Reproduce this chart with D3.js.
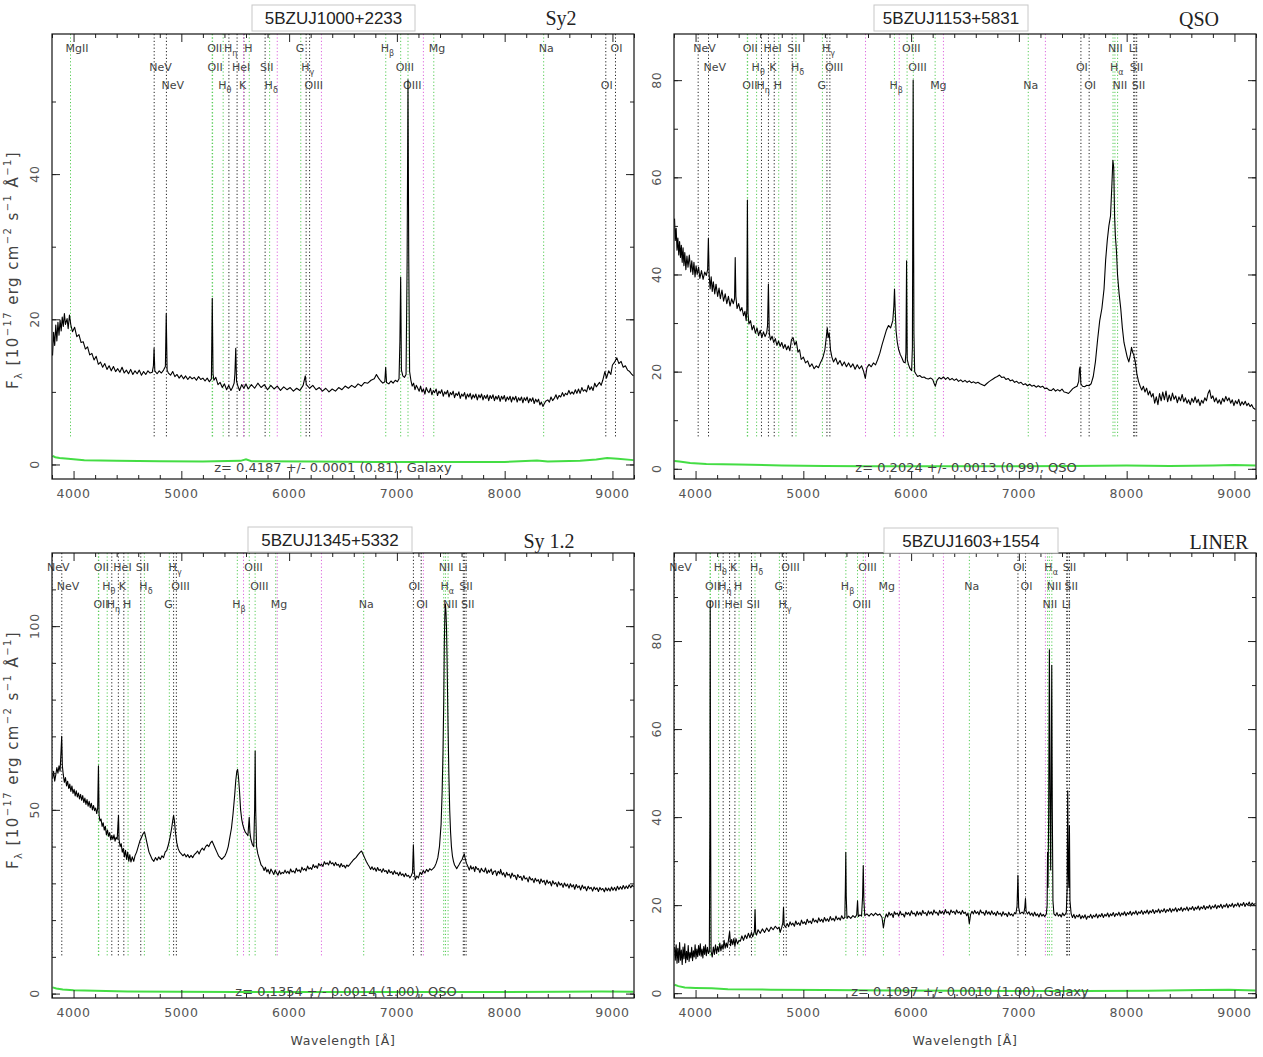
<!DOCTYPE html>
<html>
<head>
<meta charset="utf-8">
<script src="https://d3js.org/d3.v7.min.js"></script>
<style>
  body { margin: 0; background: #fff; }
  svg { display: block; }
</style>
</head>
<body>
<svg id="chart" width="1263" height="1057"></svg>
<script>
// Constants
const WAVE_DOMAIN = [3800, 9200];
const X_MAJOR_TICKS = [4000, 5000, 6000, 7000, 8000, 9000];
const X_MINOR_STEP = 200;

const panelNames = ['5BZUJ1000+2233', '5BZUJ1153+5831', '5BZUJ1345+5332', '5BZUJ1603+1554'];
const panelClass = ['Sy2', 'QSO', 'Sy 1.2', 'LINER'];
const panelZ = [0.4187, 0.2024, 0.1354, 0.1097];
const panelZText = [
  'z= 0.4187 +/- 0.0001 (0.81), Galaxy',
  'z= 0.2024 +/- 0.0013 (0.99), QSO',
  'z= 0.1354 +/- 0.0014 (1.00), QSO',
  'z= 0.1097 +/- 0.0010 (1.00), Galaxy'
];
const yDomains = [[-2, 59.3], [-2.1, 89.5], [-1.2, 119.9], [-1.1, 100]];
const yLabelTicks = [[0, 20, 40], [0, 20, 40, 60, 80], [0, 50, 100], [0, 20, 40, 60, 80]];
const yMinorStep = [10, 10, 10, 10];

// Spectral lines (rest wavelength), label and marker colour
const lineLabels = ['MgII', 'NeV', 'NeV', 'OII', 'OII', 'H_θ', 'H_η', 'HeI', 'K', 'H', 'SII', 'H_δ', 'G', 'H_γ',
  'OIII', 'H_β', 'OIII', 'OIII', 'Mg', 'Na', 'OI', 'OI', 'NII', 'H_α', 'NII', 'Li', 'SII', 'SII'];
const lineRest = [2799.5, 3346.8, 3426.8, 3726.0, 3728.8, 3797.9, 3835.4, 3889.0, 3933.7, 3968.5, 4072.3, 4101.7,
  4305.6, 4340.5, 4363.2, 4861.3, 4958.9, 5006.8, 5175.4, 5894.0, 6300.3, 6363.8, 6548.1, 6562.8, 6583.5,
  6707.8, 6716.4, 6730.8];
const lineColor = ['g', 'k', 'k', 'g', 'g', 'g', 'k', 'k', 'k', 'g', 'k', 'g', 'g', 'k',
  'k', 'g', 'g', 'g', 'g', 'g', 'k', 'k', 'g', 'g', 'g', 'k', 'k', 'k'];
// label row of each line in each panel (0 = no label)
const lineRows = [
  [1, 2, 3, 1, 2, 3, 1, 2, 3, 1, 2, 3, 1, 2, 3, 1, 2, 3, 1, 1, 3, 1, 0, 0, 0, 0, 0, 0],
  [0, 1, 2, 3, 1, 2, 3, 1, 2, 3, 1, 2, 3, 1, 2, 3, 1, 2, 3, 3, 2, 3, 1, 2, 3, 1, 2, 3],
  [0, 1, 2, 3, 1, 2, 3, 1, 2, 3, 1, 2, 3, 1, 2, 3, 1, 2, 3, 3, 2, 3, 1, 2, 3, 1, 2, 3],
  [0, 0, 1, 2, 3, 1, 2, 3, 1, 2, 3, 1, 2, 3, 1, 2, 3, 1, 2, 2, 1, 2, 3, 1, 2, 3, 1, 2]
];
// night sky lines (observed wavelength)
const skyLines = [5577, 5890, 6300, 7246];

// Spectra: [wavelength, flux]
const spec1 = [[3805,15.0],[3815,18.2],[3825,16.4],[3835,19.2],[3845,17.0],[3855,19.6],[3865,17.8],[3875,19.9],
  [3885,18.4],[3895,20.3],[3905,19.0],[3915,20.8],[3925,19.3],[3940,20.1],[3950,18.7],[3962,20.6],[3975,19.2],
  [3990,18.3],[4010,18.9],[4030,17.6],[4050,17.9],[4070,16.8],[4090,16.9],[4110,15.9],[4130,16.2],[4150,15.1],
  [4170,15.3],[4190,14.4],[4210,14.9],[4230,13.8],[4250,14.1],[4270,13.4],[4290,13.9],[4310,13.1],[4330,13.6],
  [4350,12.9],[4370,13.5],[4390,12.8],[4410,13.2],[4430,12.7],[4450,13.4],[4470,12.6],[4490,13.0],[4510,12.5],
  [4530,13.1],[4550,12.4],[4570,12.9],[4590,12.5],[4610,13.0],[4630,12.3],[4650,12.8],[4670,12.4],[4690,12.9],
  [4710,12.6],[4730,12.7],[4741,13.6],[4747,16.0],[4754,12.9],[4775,12.5],[4795,12.9],[4815,12.6],[4835,13.0],
  [4852,13.5],[4860,20.8],[4868,13.0],[4880,12.6],[4900,12.3],[4920,12.8],[4940,12.1],[4960,12.4],[4980,11.9],
  [5000,12.3],[5020,11.8],[5040,12.2],[5060,11.7],[5080,12.1],[5100,11.8],[5120,12.0],[5140,11.6],[5160,12.1],
  [5180,11.7],[5200,11.9],[5220,11.5],[5240,11.9],[5260,11.4],[5279,11.8],[5287,22.9],[5294,12.5],[5302,11.6],
  [5320,12.0],[5340,11.0],[5360,11.3],[5380,10.6],[5400,11.1],[5420,10.3],[5440,10.9],[5460,10.2],[5475,10.6],
  [5490,11.2],[5497,12.5],[5505,16.0],[5512,11.5],[5525,10.8],[5540,10.2],[5560,11.0],[5580,10.5],[5600,11.1],
  [5620,10.4],[5650,11.0],[5680,10.5],[5710,11.2],[5740,10.6],[5770,11.0],[5800,10.3],[5830,10.9],[5860,10.4],
  [5890,10.8],[5920,10.2],[5950,10.7],[5980,10.3],[6010,10.6],[6040,10.1],[6070,10.5],[6100,10.2],[6130,10.9],
  [6150,12.2],[6160,11.0],[6190,10.5],[6220,10.9],[6250,10.3],[6280,10.6],[6310,10.1],[6340,10.5],[6370,10.0],
  [6400,10.4],[6430,10.1],[6460,10.6],[6490,10.3],[6520,10.8],[6550,10.5],[6580,10.9],[6610,10.6],[6640,11.1],
  [6670,10.8],[6700,11.3],[6730,11.2],[6760,11.6],[6790,11.8],[6810,12.4],[6830,11.9],[6850,11.5],[6870,11.2],
  [6888,11.4],[6896,13.4],[6904,11.3],[6925,11.1],[6945,11.5],[6965,11.2],[6985,11.6],[7005,11.4],[7020,11.8],
  [7028,17.0],[7035,25.8],[7042,13.0],[7055,12.2],[7070,12.0],[7085,12.4],[7095,28.0],[7103,53.0],[7110,28.5],
  [7118,12.8],[7130,11.6],[7142,10.8],[7155,11.2],[7168,10.3],[7180,10.9],[7194,10.5],[7207,10.1],[7220,10.8],
  [7233,10.0],[7246,10.4],[7260,9.7],[7272,10.6],[7286,10.1],[7298,9.9],[7312,10.5],[7325,9.6],[7338,10.2],
  [7350,9.9],[7364,10.4],[7377,9.5],[7390,10.1],[7403,9.8],[7416,10.3],[7430,9.4],[7443,10.0],[7456,9.7],
  [7470,10.2],[7483,9.3],[7496,9.9],[7509,9.6],[7522,10.1],[7535,9.2],[7548,9.8],[7562,9.5],[7575,10.0],
  [7588,9.1],[7601,9.7],[7614,9.4],[7628,9.9],[7641,9.0],[7654,9.7],[7667,9.3],[7680,9.8],[7694,9.0],[7707,9.6],
  [7720,9.2],[7733,9.7],[7746,8.9],[7760,9.6],[7773,9.2],[7786,9.7],[7799,8.9],[7812,9.5],[7826,9.1],[7839,9.6],
  [7852,8.8],[7865,9.5],[7878,9.1],[7892,9.6],[7905,8.8],[7918,9.4],[7931,9.0],[7944,9.5],[7958,8.7],[7971,9.4],
  [7984,9.0],[7997,9.5],[8010,8.7],[8024,9.3],[8037,8.9],[8050,9.4],[8063,8.6],[8076,9.3],[8090,8.9],[8103,9.4],
  [8116,8.6],[8129,9.2],[8142,8.8],[8156,9.3],[8169,8.5],[8182,9.2],[8195,8.8],[8208,9.3],[8222,8.5],[8235,9.1],
  [8248,8.7],[8261,9.2],[8274,8.4],[8288,9.0],[8301,8.6],[8314,9.0],[8327,8.2],[8340,8.6],[8355,8.0],[8365,8.3],
  [8380,8.7],[8400,8.9],[8415,8.6],[8430,9.3],[8445,8.8],[8460,9.1],[8476,9.6],[8490,9.0],[8505,9.5],[8520,9.3],
  [8536,9.9],[8550,9.4],[8565,9.8],[8580,9.6],[8596,10.2],[8610,9.7],[8625,10.0],[8640,9.7],[8656,10.3],
  [8670,9.8],[8685,10.4],[8700,9.8],[8716,10.6],[8730,10.1],[8745,10.3],[8760,10.0],[8776,10.9],[8790,10.3],
  [8805,10.7],[8820,10.2],[8836,11.2],[8850,10.7],[8865,11.0],[8880,11.3],[8895,10.9],[8910,11.6],[8930,12.8],
  [8945,11.9],[8965,12.9],[8985,12.4],[9000,13.7],[9020,14.1],[9040,14.7],[9060,13.9],[9080,14.2],[9100,13.4],
  [9120,13.6],[9140,13.0],[9160,12.8],[9180,12.4],[9195,12.2]];

const spec2 = [[3805,51.5],[3812,47.0],[3820,49.5],[3828,45.0],[3836,47.5],[3844,44.0],[3852,46.8],[3860,43.5],
  [3868,46.0],[3876,42.5],[3884,45.5],[3892,41.8],[3900,44.5],[3910,41.0],[3920,43.8],[3930,41.5],[3942,44.0],
  [3955,40.5],[3965,42.8],[3975,40.0],[3985,42.5],[3995,39.5],[4005,41.8],[4015,40.0],[4028,41.5],[4040,39.2],
  [4055,40.8],[4070,39.0],[4085,40.5],[4100,39.8],[4112,41.0],[4119,47.5],[4126,40.0],[4135,37.0],[4145,39.5],
  [4155,36.5],[4165,38.5],[4178,36.0],[4190,38.0],[4205,35.5],[4218,37.2],[4230,35.0],[4245,36.8],[4260,34.5],
  [4275,36.0],[4290,34.0],[4305,35.5],[4320,33.5],[4335,35.0],[4350,34.0],[4362,35.0],[4368,43.5],[4374,35.5],
  [4385,33.0],[4400,34.0],[4415,32.5],[4430,33.2],[4445,31.5],[4458,32.4],[4470,30.5],[4476,33.0],[4481,55.3],
  [4487,32.0],[4495,29.8],[4510,30.5],[4525,28.6],[4540,29.5],[4555,27.9],[4570,29.0],[4585,27.4],[4600,28.5],
  [4615,27.0],[4630,28.2],[4645,27.2],[4660,28.0],[4668,29.5],[4676,38.0],[4684,28.0],[4695,26.5],[4710,27.3],
  [4725,26.0],[4740,26.8],[4755,25.4],[4770,26.3],[4785,25.2],[4800,26.0],[4815,24.8],[4830,25.6],[4845,24.5],
  [4860,25.3],[4875,24.3],[4890,26.6],[4905,27.0],[4920,25.5],[4935,26.2],[4950,24.0],[4965,24.5],[4980,22.5],
  [5000,23.0],[5020,21.8],[5040,22.2],[5060,21.0],[5080,21.6],[5100,20.6],[5120,21.2],[5140,20.8],[5160,21.9],
  [5180,22.8],[5200,24.5],[5215,27.5],[5222,29.0],[5230,27.0],[5240,28.0],[5252,24.5],[5265,23.0],[5280,22.0],
  [5300,22.8],[5320,21.5],[5340,22.3],[5360,21.2],[5380,22.0],[5400,21.0],[5420,21.8],[5440,20.9],[5460,21.6],
  [5480,20.5],[5500,21.4],[5520,20.6],[5540,21.2],[5560,20.0],[5575,18.6],[5590,20.8],[5610,21.5],[5630,21.0],
  [5650,21.8],[5670,21.4],[5690,22.5],[5710,23.8],[5730,25.5],[5750,27.0],[5770,28.5],[5790,29.5],[5810,29.0],
  [5830,30.5],[5840,33.5],[5846,37.0],[5852,33.0],[5860,28.5],[5872,26.0],[5885,24.5],[5900,23.5],[5915,22.8],
  [5930,22.0],[5945,21.8],[5952,24.0],[5958,42.8],[5964,22.5],[5975,21.5],[5990,20.6],[6005,20.2],[6012,25.0],
  [6019,80.0],[6026,28.0],[6033,20.0],[6045,19.5],[6060,19.0],[6080,19.2],[6100,18.8],[6120,18.9],[6140,18.6],
  [6160,18.5],[6180,18.7],[6200,18.4],[6215,17.5],[6225,17.0],[6240,18.2],[6260,18.8],[6280,18.5],[6300,18.9],
  [6320,18.4],[6340,18.8],[6360,18.3],[6380,18.6],[6400,18.2],[6420,18.5],[6440,18.0],[6460,18.3],[6480,17.9],
  [6500,18.2],[6520,17.8],[6540,18.1],[6560,17.7],[6580,17.9],[6600,17.6],[6620,17.8],[6640,17.5],[6660,17.3],
  [6680,17.1],[6700,17.5],[6720,17.9],[6740,18.2],[6760,18.5],[6780,18.8],[6800,19.0],[6820,19.3],[6840,18.8],
  [6860,18.9],[6880,18.4],[6900,18.6],[6920,18.1],[6940,18.3],[6960,17.8],[6980,18.0],[7000,17.6],[7020,17.8],
  [7040,17.3],[7060,17.5],[7080,17.1],[7100,17.4],[7120,17.0],[7140,17.2],[7160,16.8],[7180,17.1],[7200,16.8],
  [7220,17.0],[7240,16.5],[7260,16.6],[7280,16.2],[7300,16.1],[7320,16.5],[7340,16.0],[7360,16.3],[7380,16.0],
  [7400,16.4],[7420,15.8],[7440,15.7],[7460,15.5],[7480,16.0],[7500,16.5],[7520,16.8],[7540,17.0],[7555,18.0],
  [7562,20.5],[7568,21.0],[7575,17.5],[7590,17.0],[7610,16.9],[7630,17.2],[7650,17.1],[7670,17.5],[7690,19.0],
  [7710,22.0],[7730,26.5],[7750,30.5],[7770,33.0],[7790,37.0],[7805,43.0],[7820,47.0],[7835,50.0],[7850,52.0],
  [7862,58.0],[7872,63.5],[7880,62.0],[7888,52.0],[7895,48.0],[7905,45.0],[7915,40.0],[7930,36.0],[7945,33.0],
  [7960,29.0],[7975,26.0],[7990,24.5],[8005,23.0],[8020,22.0],[8035,23.5],[8045,25.0],[8055,24.0],[8065,23.5],
  [8080,22.0],[8095,19.5],[8110,18.0],[8125,17.0],[8140,16.2],[8155,17.0],[8170,15.8],[8185,16.6],[8200,15.2],
  [8215,16.0],[8230,14.8],[8245,15.5],[8260,13.5],[8275,14.8],[8290,13.2],[8305,15.5],[8320,14.0],[8335,15.8],
  [8350,14.2],[8365,16.0],[8380,13.8],[8395,15.2],[8410,14.0],[8425,15.6],[8440,14.3],[8455,15.0],[8470,13.6],
  [8485,14.8],[8500,14.0],[8515,15.3],[8530,13.8],[8545,14.6],[8560,13.5],[8575,14.2],[8590,13.2],[8605,14.5],
  [8620,13.7],[8635,14.8],[8650,13.6],[8665,14.3],[8680,13.0],[8695,14.1],[8710,13.5],[8725,14.6],[8740,14.0],
  [8755,15.5],[8770,16.2],[8785,14.5],[8800,15.0],[8815,13.8],[8830,14.6],[8845,13.5],[8860,14.2],[8875,13.3],
  [8890,14.5],[8905,13.8],[8920,14.9],[8935,14.0],[8950,14.6],[8965,13.5],[8980,14.2],[8995,13.0],[9010,14.0],
  [9025,13.4],[9040,14.3],[9055,13.0],[9070,13.8],[9085,13.2],[9100,13.9],[9115,13.0],[9130,13.5],[9145,12.8],
  [9160,13.2],[9175,12.5],[9195,12.2]];

const spec3 = [[3805,58.5],[3815,60.5],[3825,57.8],[3835,59.5],[3845,61.5],[3855,60.0],[3865,62.0],[3875,60.5],
  [3884,66.0],[3890,70.0],[3896,62.0],[3905,59.5],[3915,57.5],[3925,58.8],[3935,56.5],[3945,57.8],[3955,55.8],
  [3965,57.0],[3975,55.0],[3985,56.5],[3995,54.5],[4005,55.6],[4015,53.8],[4025,55.2],[4035,53.5],[4045,54.6],
  [4055,53.0],[4065,54.2],[4075,52.6],[4085,53.9],[4095,52.0],[4105,53.2],[4115,51.5],[4125,52.8],[4135,51.0],
  [4145,52.3],[4155,50.6],[4165,51.8],[4175,50.0],[4185,51.2],[4195,49.8],[4205,50.5],[4215,49.0],[4224,50.5],
  [4231,62.0],[4237,48.5],[4245,47.0],[4255,47.5],[4265,45.5],[4275,46.5],[4285,44.5],[4295,45.5],[4305,43.2],
  [4315,44.5],[4325,42.8],[4335,43.8],[4345,41.8],[4355,43.0],[4365,42.0],[4375,43.2],[4385,41.5],[4395,42.5],
  [4405,42.0],[4412,46.0],[4417,48.5],[4422,42.0],[4432,40.0],[4442,40.8],[4452,38.5],[4462,39.5],[4472,37.2],
  [4482,39.0],[4492,36.5],[4502,38.5],[4512,36.0],[4522,37.8],[4532,35.8],[4545,37.2],[4558,36.0],[4570,37.5],
  [4585,38.5],[4600,40.0],[4615,41.5],[4630,42.5],[4645,43.5],[4658,44.0],[4670,42.5],[4685,40.5],[4700,38.5],
  [4715,37.5],[4730,36.5],[4745,36.0],[4760,37.0],[4775,36.3],[4790,37.2],[4805,36.5],[4820,37.5],[4835,37.0],
  [4850,38.5],[4865,39.0],[4880,40.5],[4895,42.5],[4910,45.0],[4920,47.0],[4928,48.5],[4936,47.0],[4945,44.0],
  [4958,41.0],[4970,39.5],[4985,38.5],[5000,38.0],[5015,37.5],[5030,38.0],[5045,37.2],[5060,37.8],[5075,37.0],
  [5090,37.6],[5105,37.0],[5120,37.8],[5135,38.2],[5150,38.8],[5165,38.0],[5180,39.0],[5195,39.6],[5210,39.0],
  [5225,40.0],[5240,40.5],[5255,40.0],[5270,41.0],[5285,41.5],[5300,40.5],[5315,39.5],[5330,38.5],[5345,37.5],
  [5360,37.0],[5375,36.5],[5390,37.0],[5405,37.5],[5420,38.5],[5435,40.0],[5450,42.5],[5465,45.0],[5480,49.0],
  [5495,54.0],[5505,58.0],[5515,60.5],[5522,61.0],[5530,59.0],[5540,55.0],[5550,50.0],[5560,47.5],[5570,46.0],
  [5580,45.0],[5592,44.0],[5605,43.5],[5618,43.0],[5625,46.0],[5630,48.0],[5636,44.0],[5645,42.0],[5660,40.5],
  [5672,40.0],[5680,50.0],[5685,66.0],[5690,50.0],[5698,40.0],[5710,38.0],[5725,36.5],[5740,35.0],[5755,34.5],
  [5768,33.5],[5780,34.4],[5793,33.1],[5805,33.8],[5819,32.6],[5831,33.9],[5844,33.2],[5858,32.4],[5870,33.6],
  [5883,32.9],[5896,32.2],[5910,33.4],[5922,32.5],[5936,33.0],[5948,32.7],[5962,33.6],[5975,32.8],[5988,33.3],
  [6001,32.6],[6014,33.9],[6027,33.1],[6040,33.4],[6054,32.8],[6066,34.1],[6080,33.3],[6093,33.7],[6106,33.0],
  [6119,34.4],[6132,33.6],[6145,34.0],[6158,33.4],[6171,34.7],[6184,33.9],[6197,34.3],[6210,33.8],[6223,35.1],
  [6236,34.3],[6249,34.8],[6262,34.1],[6275,35.4],[6288,34.8],[6301,35.2],[6314,34.6],[6327,35.9],[6340,35.2],
  [6353,35.6],[6366,35.0],[6379,36.1],[6392,35.3],[6405,35.6],[6418,34.8],[6431,35.7],[6444,34.9],[6457,35.2],
  [6470,34.4],[6483,35.4],[6496,34.6],[6509,34.9],[6522,34.2],[6535,35.0],[6548,34.6],[6562,35.1],[6580,35.8],
  [6600,36.5],[6620,37.0],[6640,37.8],[6660,38.5],[6672,38.8],[6685,38.0],[6700,37.0],[6715,36.0],[6730,35.2],
  [6743,34.6],[6756,33.8],[6769,34.5],[6782,33.7],[6795,34.2],[6808,33.3],[6821,34.3],[6834,33.5],[6847,33.8],
  [6860,33.0],[6873,34.0],[6886,33.2],[6899,33.5],[6912,32.7],[6925,33.7],[6938,32.9],[6951,33.2],[6964,32.4],
  [6977,33.4],[6990,32.6],[7003,32.9],[7016,32.1],[7029,33.1],[7042,32.2],[7055,32.6],[7068,31.8],[7081,32.7],
  [7094,31.9],[7107,32.2],[7120,31.5],[7132,32.0],[7145,33.0],[7153,40.5],[7160,33.5],[7170,31.0],[7185,32.0],
  [7200,31.5],[7215,33.0],[7230,32.4],[7245,33.5],[7260,32.8],[7275,33.8],[7290,33.2],[7305,34.0],[7320,33.6],
  [7335,34.0],[7350,34.5],[7365,35.5],[7380,37.0],[7395,40.0],[7410,46.0],[7420,55.0],[7428,66.0],[7435,80.0],
  [7440,95.0],[7445,103.0],[7450,106.0],[7455,104.0],[7460,100.0],[7465,92.0],[7470,82.0],[7475,72.0],[7482,60.0],
  [7490,50.0],[7498,44.0],[7506,40.0],[7515,37.5],[7525,36.0],[7535,35.0],[7545,34.5],[7555,34.0],[7565,34.5],
  [7575,35.0],[7590,35.8],[7605,36.5],[7618,37.5],[7625,38.0],[7632,37.0],[7645,35.5],[7660,34.5],[7672,33.6],
  [7685,34.8],[7694,33.9],[7710,34.4],[7722,33.2],[7731,34.6],[7748,33.8],[7757,34.0],[7770,32.9],[7784,34.1],
  [7795,33.5],[7810,33.1],[7822,34.2],[7836,32.7],[7850,33.6],[7858,33.0],[7875,33.9],[7888,32.4],[7900,33.2],
  [7915,33.4],[7926,32.1],[7940,33.3],[7955,32.6],[7962,33.8],[7978,32.3],[7990,32.9],[8005,31.7],[8018,33.0],
  [8030,32.2],[8044,32.5],[8056,31.4],[8068,32.8],[8082,31.9],[8095,32.2],[8110,31.0],[8121,32.4],[8137,31.6],
  [8150,31.9],[8162,30.8],[8178,32.1],[8190,31.2],[8205,31.5],[8218,30.4],[8230,31.8],[8246,30.9],[8258,31.3],
  [8272,30.2],[8284,31.4],[8298,30.6],[8312,31.0],[8326,29.9],[8337,31.2],[8352,30.3],[8366,30.8],[8378,29.6],
  [8392,30.9],[8405,30.0],[8420,30.5],[8434,29.3],[8446,30.7],[8460,29.8],[8474,30.2],[8488,29.1],[8500,30.4],
  [8515,29.5],[8528,30.0],[8542,28.9],[8555,30.1],[8570,29.2],[8583,29.8],[8597,28.7],[8610,29.9],[8624,29.0],
  [8638,29.6],[8650,28.4],[8664,29.7],[8678,28.8],[8692,29.3],[8705,28.2],[8720,29.5],[8734,28.6],[8746,29.1],
  [8760,28.0],[8775,29.2],[8788,28.5],[8802,28.9],[8816,27.9],[8830,29.0],[8843,28.3],[8856,28.8],[8870,27.8],
  [8884,28.9],[8897,28.2],[8910,28.6],[8925,27.7],[8938,28.8],[8952,28.0],[8965,28.7],[8978,27.9],[8992,29.0],
  [9005,28.1],[9020,28.9],[9033,28.0],[9046,29.2],[9060,28.3],[9074,29.1],[9088,28.4],[9100,29.4],[9115,28.5],
  [9128,29.3],[9142,28.6],[9155,29.6],[9170,28.8],[9183,29.5],[9195,29.0]];

const spec4 = [[3805,10.5],[3812,7.5],[3820,11.0],[3828,6.8],[3836,10.2],[3844,7.0],[3852,11.5],[3860,7.5],
  [3868,9.8],[3876,6.5],[3884,10.5],[3892,7.8],[3900,11.2],[3908,6.9],[3916,9.5],[3924,7.6],[3932,10.8],
  [3940,7.2],[3948,9.2],[3956,8.0],[3964,10.4],[3972,7.4],[3980,9.6],[3988,8.2],[3996,11.0],[4004,7.8],
  [4012,10.0],[4020,8.3],[4028,10.8],[4036,8.6],[4044,11.2],[4052,8.4],[4060,10.0],[4068,8.0],[4076,10.6],
  [4084,8.8],[4092,11.0],[4100,8.5],[4110,10.4],[4120,9.0],[4128,9.5],[4133,40.0],[4136,89.0],[4139,45.0],
  [4144,9.5],[4155,8.2],[4165,10.5],[4175,8.8],[4185,11.0],[4195,9.0],[4205,10.6],[4215,9.4],[4225,11.4],
  [4235,9.6],[4245,11.0],[4255,10.0],[4265,12.0],[4275,10.2],[4285,11.4],[4295,10.4],[4305,12.0],[4316,14.0],
  [4325,10.8],[4335,12.2],[4345,11.0],[4355,12.4],[4365,10.6],[4375,12.4],[4390,11.2],[4404,12.0],[4415,11.8],
  [4430,13.0],[4445,12.0],[4460,13.2],[4475,12.4],[4490,13.6],[4505,12.6],[4519,13.8],[4530,12.8],[4546,14.0],
  [4552,19.0],[4558,13.6],[4565,13.2],[4580,14.4],[4600,13.6],[4620,14.6],[4640,13.8],[4660,14.8],[4680,14.0],
  [4700,15.0],[4720,14.4],[4740,15.2],[4760,14.6],[4775,15.0],[4785,13.8],[4800,15.0],[4810,16.0],[4816,19.5],
  [4822,15.5],[4835,15.0],[4850,15.8],[4864,15.1],[4877,16.2],[4890,15.5],[4903,15.9],[4917,15.2],[4930,16.4],
  [4943,15.6],[4956,16.0],[4970,15.4],[4983,16.6],[4996,15.8],[5010,16.2],[5023,15.6],[5036,16.8],[5050,16.0],
  [5063,16.4],[5076,15.8],[5090,17.0],[5103,16.2],[5116,16.6],[5130,16.0],[5143,17.1],[5156,16.3],[5170,16.8],
  [5183,16.1],[5196,17.2],[5210,16.4],[5223,16.9],[5236,16.3],[5250,17.4],[5263,16.6],[5276,17.0],[5290,16.4],
  [5303,17.5],[5316,16.7],[5330,17.1],[5343,16.6],[5356,17.6],[5370,16.9],[5385,17.2],[5390,24.0],[5394,32.0],
  [5398,22.0],[5405,17.0],[5420,17.5],[5440,17.0],[5460,17.6],[5480,17.2],[5495,17.8],[5503,21.0],[5510,17.4],
  [5525,17.8],[5540,17.5],[5550,22.0],[5556,29.0],[5562,21.0],[5570,17.6],[5590,18.0],[5610,17.5],[5630,18.1],
  [5650,17.6],[5670,18.2],[5690,17.7],[5710,18.0],[5730,17.2],[5743,14.8],[5755,16.8],[5770,18.0],[5782,17.3],
  [5795,18.4],[5806,17.7],[5820,18.1],[5834,17.2],[5845,18.5],[5858,17.9],[5872,18.2],[5885,17.5],[5898,18.6],
  [5911,17.8],[5925,18.0],[5938,17.3],[5950,18.4],[5964,17.9],[5977,18.3],[5990,17.6],[6003,18.7],[6016,18.0],
  [6030,18.2],[6043,17.5],[6055,18.6],[6068,17.8],[6082,18.4],[6095,17.7],[6108,18.8],[6120,18.1],[6134,18.3],
  [6147,17.6],[6160,18.7],[6172,18.0],[6186,18.5],[6200,17.8],[6212,18.9],[6225,18.2],[6238,18.4],[6252,17.7],
  [6265,18.8],[6278,18.1],[6290,18.6],[6304,17.9],[6318,19.0],[6330,18.2],[6344,18.5],[6357,17.8],[6370,18.9],
  [6383,18.3],[6396,18.6],[6410,17.9],[6422,18.9],[6436,18.2],[6450,18.5],[6463,17.9],[6476,18.8],[6490,18.1],
  [6503,18.4],[6516,17.6],[6528,18.2],[6540,15.8],[6552,17.9],[6565,18.6],[6578,18.0],[6590,18.8],[6604,18.1],
  [6618,18.5],[6630,17.8],[6643,18.9],[6656,18.2],[6670,18.4],[6683,17.7],[6696,18.8],[6710,18.0],[6722,18.5],
  [6735,17.8],[6748,18.7],[6762,17.9],[6775,18.3],[6788,17.6],[6800,18.6],[6814,17.9],[6828,18.2],[6840,17.5],
  [6853,18.5],[6866,17.8],[6880,18.1],[6893,17.4],[6906,18.4],[6920,17.7],[6933,18.0],[6946,17.5],[6960,18.3],
  [6972,18.0],[6983,19.8],[6991,26.8],[6998,19.5],[7010,18.0],[7030,18.4],[7045,18.0],[7055,19.5],[7061,21.5],
  [7067,18.6],[7080,18.0],[7093,18.5],[7106,17.7],[7120,18.2],[7133,17.5],[7146,18.4],[7160,17.6],[7173,18.0],
  [7186,17.3],[7200,18.2],[7213,17.5],[7226,17.9],[7240,17.4],[7255,18.0],[7262,20.0],[7266,32.0],[7270,24.0],
  [7276,40.0],[7283,78.0],[7289,45.0],[7295,28.0],[7300,48.0],[7305,74.5],[7310,42.0],[7316,21.0],[7325,18.0],
  [7340,17.6],[7353,18.3],[7366,17.5],[7380,17.9],[7393,17.3],[7406,18.2],[7420,17.6],[7433,18.0],[7440,18.4],
  [7448,24.0],[7453,46.0],[7458,28.0],[7464,24.0],[7469,38.0],[7474,21.0],[7485,18.0],[7497,17.2],[7510,17.9],
  [7522,17.0],[7536,17.7],[7549,17.3],[7562,17.9],[7575,16.9],[7588,17.6],[7600,17.1],[7614,17.8],[7627,16.8],
  [7640,17.5],[7653,17.2],[7666,17.9],[7680,17.0],[7692,17.7],[7705,17.3],[7718,18.0],[7731,17.1],[7745,17.8],
  [7758,17.4],[7770,18.1],[7784,17.2],[7797,17.9],[7810,17.5],[7823,18.2],[7836,17.3],[7850,18.0],[7862,17.6],
  [7876,18.3],[7889,17.4],[7902,18.1],[7915,17.7],[7928,18.4],[7941,17.5],[7955,18.2],[7968,17.8],[7980,18.5],
  [7994,17.6],[8007,18.3],[8020,17.9],[8033,18.6],[8046,17.7],[8060,18.4],[8073,18.0],[8086,18.7],[8099,17.8],
  [8112,18.5],[8125,18.1],[8138,18.8],[8152,17.9],[8165,18.6],[8178,18.2],[8190,18.9],[8204,18.0],[8217,18.7],
  [8230,18.3],[8243,19.0],[8257,18.1],[8270,18.8],[8283,18.4],[8296,19.1],[8309,18.2],[8322,18.9],[8335,18.5],
  [8348,19.2],[8362,18.3],[8375,19.0],[8388,18.6],[8401,19.3],[8414,18.4],[8427,19.1],[8440,18.7],[8454,19.4],
  [8467,18.5],[8480,19.2],[8493,18.8],[8506,19.5],[8519,18.6],[8532,19.3],[8546,18.9],[8559,19.6],[8572,18.7],
  [8585,19.4],[8598,19.0],[8611,19.7],[8625,18.8],[8638,19.5],[8651,19.1],[8664,19.8],[8677,18.9],[8690,19.6],
  [8704,19.2],[8717,19.9],[8730,19.0],[8743,19.7],[8756,19.3],[8769,20.0],[8782,19.1],[8796,19.8],[8809,19.4],
  [8822,20.1],[8835,19.2],[8848,19.9],[8861,19.5],[8874,20.2],[8888,19.3],[8901,20.0],[8914,19.6],[8927,20.3],
  [8940,19.4],[8953,20.1],[8967,19.7],[8980,20.4],[8993,19.5],[9006,20.2],[9019,19.8],[9032,20.5],[9045,19.6],
  [9058,20.3],[9072,19.9],[9085,20.6],[9098,19.7],[9111,20.4],[9124,20.0],[9137,20.7],[9150,19.8],[9164,20.5],
  [9177,20.1],[9195,20.4]];

// Error / sky spectra plotted in green near zero
const noise1 = [[3805,1.2],[3830,1.0],[3870,0.9],[3950,0.8],[4100,0.6],[4400,0.5],[4800,0.45],[5200,0.4],
  [5550,0.5],[5600,0.7],[5650,0.45],[6200,0.4],[6800,0.35],[7400,0.35],[8000,0.35],[8300,0.55],[8400,0.4],
  [8700,0.5],[8850,0.7],[8950,0.9],[9050,0.8],[9195,0.6]];
const noise2 = [[3805,1.6],[3850,1.5],[3950,1.2],[4100,1.0],[4400,0.9],[4800,0.7],[5200,0.6],[5600,0.5],
  [6000,0.55],[6500,0.5],[7000,0.55],[7500,0.6],[8000,0.7],[8400,0.6],[8800,0.7],[9000,0.8],[9195,0.7]];
const noise3 = [[3805,1.7],[3840,1.4],[3900,1.1],[4000,0.9],[4200,0.8],[4500,0.6],[5000,0.5],[5500,0.45],
  [6000,0.45],[6500,0.4],[7000,0.4],[7500,0.4],[8000,0.4],[8500,0.5],[8900,0.6],[9195,0.5]];
const noise4 = [[3805,1.9],[3840,1.6],[3900,1.3],[4000,1.2],[4150,1.1],[4300,0.9],[4700,0.8],[5200,0.7],
  [5800,0.6],[6400,0.55],[7000,0.5],[7600,0.5],[8200,0.55],[8700,0.7],[8950,0.8],[9195,0.6]];

const spectra = [spec1, spec2, spec3, spec4];
const noises = [noise1, noise2, noise3, noise4];

// Layout (pixels)
const frames = [
  { x: 52, y: 34, w: 582, h: 445 },
  { x: 674, y: 34, w: 582, h: 445 },
  { x: 52, y: 553, w: 582, h: 445 },
  { x: 674, y: 553, w: 582, h: 445 }
];
const titleBoxes = [
  { x: 252, y: 5, w: 163, h: 26 },
  { x: 874, y: 5, w: 154, h: 26 },
  { x: 248, y: 527, w: 164, h: 25 },
  { x: 884, y: 528, w: 174, h: 25 }
];
const classPos = [{ x: 561, y: 25 }, { x: 1199, y: 26 }, { x: 549, y: 548 }, { x: 1219, y: 549 }];
const zTextPos = [{ x: 333, y: 472 }, { x: 966, y: 472 }, { x: 346, y: 996 }, { x: 970, y: 996 }];
const ROW_OFFSETS = [18, 37, 55];
const COLORS = { g: '#55cc55', k: '#222', m: '#dd66dd' };
const FONT = "'DejaVu Sans', 'Liberation Sans', sans-serif";

const svg = d3.select('#chart');
svg.append('rect').attr('width', 1263).attr('height', 1057).attr('fill', '#fff');

//==========================================
// Helpers
//==========================================

// Write a label like "H_β" as H with a subscript
function addLineLabel(g, x, y, label) {
  const parts = label.split('_');
  const t = g.append('text')
    .attr('x', x).attr('y', y)
    .attr('font-family', FONT).attr('font-size', 11)
    .attr('fill', '#444')
    .text(parts[0]);
  if (parts[1]) {
    t.append('tspan')
      .attr('font-size', 8)
      .attr('dy', 4)
      .text(parts[1]);
  }
}

function drawPanel(i) {
  const f = frames[i];
  const x = d3.scaleLinear().domain(WAVE_DOMAIN).range([f.x, f.x + f.w]);
  const y = d3.scaleLinear().domain(yDomains[i]).range([f.y + f.h, f.y]);
  const g = svg.append('g');

  const clipId = `clip-${i}`;
  svg.append('clipPath').attr('id', clipId)
    .append('rect').attr('x', f.x).attr('y', f.y).attr('width', f.w).attr('height', f.h);

  // Line markers
  const markerBottom = f.y + f.h - 42;
  const z = panelZ[i];
  const markers = g.append('g').attr('clip-path', `url(#${clipId})`);
  lineRest.forEach((rest, k) => {
    const obs = rest * (1 + z);
    if (obs < WAVE_DOMAIN[0] - 10 || obs > WAVE_DOMAIN[1]) return;
    markers.append('line')
      .attr('x1', x(obs)).attr('x2', x(obs))
      .attr('y1', f.y).attr('y2', markerBottom)
      .attr('stroke', COLORS[lineColor[k]])
      .attr('stroke-width', 1)
      .attr('stroke-dasharray', '1.2,2.2');
  });
  skyLines.forEach(w => {
    markers.append('line')
      .attr('x1', x(w)).attr('x2', x(w))
      .attr('y1', f.y).attr('y2', markerBottom)
      .attr('stroke', COLORS.m)
      .attr('stroke-width', 1)
      .attr('stroke-dasharray', '1.2,2.2');
  });

  // Line labels
  lineRest.forEach((rest, k) => {
    const row = lineRows[i][k];
    if (!row) return;
    const obs = rest * (1 + z);
    addLineLabel(g, x(obs) - 5, f.y + ROW_OFFSETS[row - 1], lineLabels[k]);
  });

  // Noise spectrum (green)
  const line = d3.line().x(d => x(d[0])).y(d => y(d[1]));
  g.append('path')
    .datum(noises[i])
    .attr('clip-path', `url(#${clipId})`)
    .attr('d', line)
    .attr('fill', 'none')
    .attr('stroke', '#44dd44')
    .attr('stroke-width', 2);

  // Object spectrum
  g.append('path')
    .datum(spectra[i])
    .attr('clip-path', `url(#${clipId})`)
    .attr('d', line)
    .attr('fill', 'none')
    .attr('stroke', '#000')
    .attr('stroke-width', 1.1)
    .attr('stroke-linejoin', 'round');

  // Axes: ticks point inward on all four sides
  const minorX = d3.range(WAVE_DOMAIN[0], WAVE_DOMAIN[1] + 1, X_MINOR_STEP).filter(v => v % 1000 !== 0);
  const yMinor = d3.range(0, yDomains[i][1], yMinorStep[i]);
  const axes = [
    [d3.axisBottom(x).tickValues(X_MAJOR_TICKS).tickSize(-8), `translate(0,${f.y + f.h})`],
    [d3.axisBottom(x).tickValues(minorX).tickSize(-4), `translate(0,${f.y + f.h})`],
    [d3.axisTop(x).tickValues(X_MAJOR_TICKS).tickSize(-8), `translate(0,${f.y})`],
    [d3.axisTop(x).tickValues(minorX).tickSize(-4), `translate(0,${f.y})`],
    [d3.axisLeft(y).tickValues(yLabelTicks[i]).tickSize(-8), `translate(${f.x},0)`],
    [d3.axisLeft(y).tickValues(yMinor).tickSize(-4), `translate(${f.x},0)`],
    [d3.axisRight(y).tickValues(yLabelTicks[i]).tickSize(-8), `translate(${f.x + f.w},0)`],
    [d3.axisRight(y).tickValues(yMinor).tickSize(-4), `translate(${f.x + f.w},0)`]
  ];
  axes.forEach(([ax, tr]) => {
    const a = g.append('g').attr('transform', tr).call(ax.tickFormat(''));
    a.select('.domain').remove();
    a.selectAll('line').attr('stroke', '#222');
  });

  // Frame
  g.append('rect')
    .attr('x', f.x).attr('y', f.y).attr('width', f.w).attr('height', f.h)
    .attr('fill', 'none').attr('stroke', '#111').attr('stroke-width', 1.2);

  // Tick labels
  X_MAJOR_TICKS.forEach(v => {
    g.append('text')
      .attr('x', x(v)).attr('y', f.y + f.h + 19)
      .attr('text-anchor', 'middle')
      .attr('font-family', FONT).attr('font-size', 12.5)
      .attr('letter-spacing', 0.6)
      .attr('fill', '#555')
      .text(v);
  });
  yLabelTicks[i].forEach(v => {
    g.append('text')
      .attr('transform', `translate(${f.x - 13},${y(v)}) rotate(-90)`)
      .attr('text-anchor', 'middle')
      .attr('font-family', FONT).attr('font-size', 12.5)
      .attr('letter-spacing', 0.6)
      .attr('fill', '#555')
      .text(v);
  });

  // Redshift text
  g.append('text')
    .attr('x', zTextPos[i].x).attr('y', zTextPos[i].y)
    .attr('text-anchor', 'middle')
    .attr('font-family', FONT).attr('font-size', 13)
    .attr('fill', '#444')
    .text(panelZText[i]);

  // Title box and class
  const b = titleBoxes[i];
  g.append('rect')
    .attr('x', b.x).attr('y', b.y).attr('width', b.w).attr('height', b.h)
    .attr('fill', '#fff').attr('stroke', '#c8c8c8').attr('stroke-width', 1);
  g.append('text')
    .attr('x', b.x + b.w / 2).attr('y', b.y + b.h / 2 + 6)
    .attr('text-anchor', 'middle')
    .attr('font-family', "Arial, 'Liberation Sans', sans-serif").attr('font-size', 17)
    .attr('fill', '#222')
    .text(panelNames[i]);
  g.append('text')
    .attr('x', classPos[i].x).attr('y', classPos[i].y)
    .attr('text-anchor', 'middle')
    .attr('font-family', "'Liberation Serif', 'Times New Roman', serif").attr('font-size', 20)
    .attr('fill', '#222')
    .text(panelClass[i]);

  // Axis titles: y on the left column, x on the bottom row
  if (i % 2 === 0) {
    const cy = i === 0 ? 270 : 750;
    const t = g.append('text')
      .attr('transform', `translate(18,${cy}) rotate(-90)`)
      .attr('text-anchor', 'middle')
      .attr('font-family', FONT).attr('font-size', 15)
      .attr('letter-spacing', 1.4)
      .attr('fill', '#444');
    t.append('tspan').text('F');
    t.append('tspan').attr('font-size', 10).attr('dy', 4).text('λ');
    t.append('tspan').attr('dy', -4).text(' [10');
    t.append('tspan').attr('font-size', 10).attr('dy', -7).text('−17');
    t.append('tspan').attr('dy', 7).text(' erg cm');
    t.append('tspan').attr('font-size', 10).attr('dy', -7).text('−2');
    t.append('tspan').attr('dy', 7).text(' s');
    t.append('tspan').attr('font-size', 10).attr('dy', -7).text('−1');
    t.append('tspan').attr('dy', 7).text(' Å');
    t.append('tspan').attr('font-size', 10).attr('dy', -7).text('−1');
    t.append('tspan').attr('dy', 7).text(']');
  }
  if (i >= 2) {
    g.append('text')
      .attr('x', f.x + f.w / 2).attr('y', 1045)
      .attr('text-anchor', 'middle')
      .attr('font-family', FONT).attr('font-size', 12.5)
      .attr('letter-spacing', 0.6)
      .attr('fill', '#444')
      .text('Wavelength [Å]');
  }
}

[0, 1, 2, 3].forEach(drawPanel);
</script>
</body>
</html>
